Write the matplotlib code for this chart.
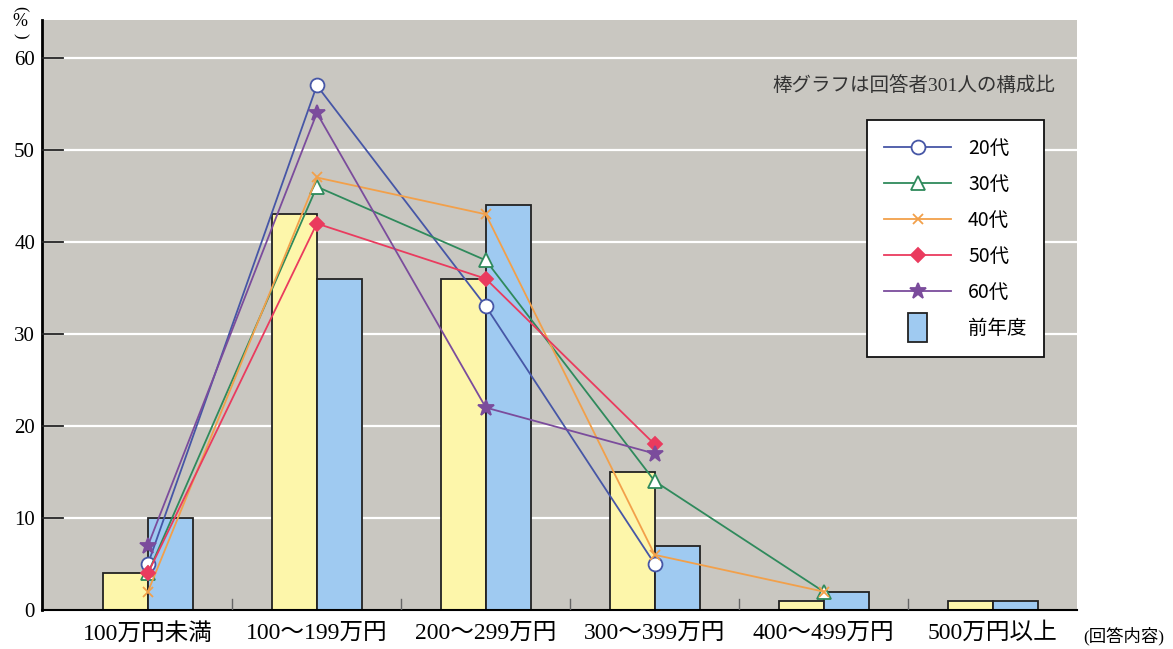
import matplotlib.pyplot as plt
import matplotlib.patches as mpatches
from matplotlib.legend_handler import HandlerPatch
from matplotlib.lines import Line2D
import numpy as np

plt.rcParams['font.family'] = ['Liberation Serif', 'Noto Sans CJK JP']

categories = ["100万円未満", "100～199万円", "200～299万円", "300～399万円", "400～499万円", "500万円以上"]
current = [4, 43, 36, 15, 1, 1]
previous = [10, 36, 44, 7, 2, 1]

age_labels = ["20代", "30代", "40代", "50代", "60代"]
age_20 = [5, 57, 33, 5, np.nan, np.nan]
age_30 = [4, 46, 38, 14, 2, np.nan]
age_40 = [2, 47, 43, 6, 2, np.nan]
age_50 = [4, 42, 36, 18, np.nan, np.nan]
age_60 = [7, 54, 22, 17, np.nan, np.nan]

yticks = [0, 10, 20, 30, 40, 50, 60]

bg = "#c9c7c1"
yellow = "#fdf6aa"
blue = "#9fcaf1"
line_styles = [
    (age_20, "#4656a6", "o", "white", 10),
    (age_30, "#2f8a5c", "^", "white", 10),
    (age_40, "#f2a04a", "x", "#f2a04a", 7),
    (age_50, "#ea3b5e", "D", "#ea3b5e", 7),
    (age_60, "#7b4c9c", "*", "#7b4c9c", 12),
]


class TallBoxHandler(HandlerPatch):
    # narrow upright box for the bar entry in the legend
    def create_artists(self, legend, orig_handle, xdescent, ydescent, width, height,
                       fontsize, trans):
        bw = width * 0.3
        bh = height * 2.1
        x0 = -xdescent + (width - bw) / 2
        y0 = -ydescent + (height - bh) / 2
        rect = mpatches.Rectangle((x0, y0), bw, bh, facecolor=orig_handle.get_facecolor(),
                                  edgecolor=orig_handle.get_edgecolor(),
                                  linewidth=orig_handle.get_linewidth(), transform=trans)
        return [rect]


fig = plt.figure(figsize=(11.73, 6.49), dpi=100)
ax = fig.add_axes([0.0358, 0.060, 0.882, 0.909])
ax.set_facecolor(bg)

x = np.arange(len(categories))
w = 0.267
ax.bar(x - w / 2, current, width=w, color=yellow, edgecolor="#222222", linewidth=1.3, zorder=2)
ax.bar(x + w / 2, previous, width=w, color=blue, edgecolor="#222222", linewidth=1.3, zorder=2)

for values, color, marker, face, size in line_styles:
    ax.plot(x, values, color=color, linewidth=1.3, marker=marker, markersize=size,
            markerfacecolor=face, markeredgecolor=color, markeredgewidth=1.3, zorder=3)

for yv in yticks[1:]:
    ax.axhline(yv, color="white", linewidth=1.6, zorder=1)
    ax.plot([-0.627, -0.5], [yv, yv], color="#222222", linewidth=1.3, zorder=4, clip_on=False)

for b in np.arange(0.5, 5.5, 1.0):
    ax.plot([b, b], [0, 1.2], color="#666666", linewidth=1.0, zorder=4)

ax.set_xlim(-0.627, 5.497)
ax.set_ylim(0, 64.1)
ax.set_yticks(yticks)
ax.set_yticklabels([str(v) for v in yticks], fontsize=15)
ax.tick_params(axis="y", length=0, pad=5)
ax.set_xticks(x)
ax.set_xticklabels(categories, fontsize=17)
ax.tick_params(axis="x", length=0, pad=9)

for side in ["top", "right"]:
    ax.spines[side].set_visible(False)
ax.spines["left"].set_linewidth(2.0)
ax.spines["bottom"].set_linewidth(1.5)

# vertical "(%)" unit mark: parens turned, percent sign upright
fig.text(20 / 1173, 1 - 9 / 649, "(", fontsize=12, rotation=270, ha="center", va="center")
fig.text(20 / 1173, 1 - 22 / 649, "%", fontsize=13, ha="center", va="center")
fig.text(20 / 1173, 1 - 36 / 649, ")", fontsize=12, rotation=270, ha="center", va="center")

fig.text(0.90, 0.868, "棒グラフは回答者301人の構成比", fontsize=14, ha="right", va="center",
         color="#333333")
fig.text(0.958, 0.020, "(回答内容)", fontsize=12.5, ha="center", va="center")

handles = [
    Line2D([], [], color=c, marker=m, markerfacecolor=f, markeredgecolor=c,
           markersize=s, linewidth=1.3, markeredgewidth=1.3)
    for _, c, m, f, s in line_styles
]
box = mpatches.Patch(facecolor=blue, edgecolor="#222222", linewidth=1.3)
handles.append(box)
leg = ax.legend(handles, age_labels + ["前年度"], loc="upper right",
                bbox_to_anchor=(0.978, 0.847), frameon=True, fancybox=False,
                handlelength=3.4, labelspacing=0.78, borderpad=0.9,
                handletextpad=0.9, handler_map={mpatches.Patch: TallBoxHandler()},
                prop={'family': ['Noto Sans CJK JP'], 'size': 14})
leg.get_frame().set_edgecolor("#111111")
leg.get_frame().set_linewidth(1.3)
leg.get_frame().set_alpha(1.0)
leg.set_zorder(5)

fig.savefig("out.png", dpi=100)
